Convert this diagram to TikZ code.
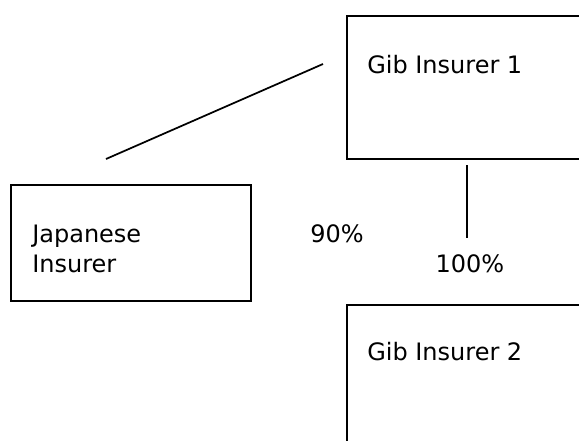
\documentclass[tikz,border=0pt]{standalone}
\usepackage{fontspec}
\setmainfont{DejaVu Sans}
\usetikzlibrary{positioning}
\tikzset{plainbox/.style={
    % The shape:
    rectangle,inner sep=0pt,anchor=north west,
    % The rest
    line width=1.3pt,draw=black
  },
  boxtext/.style={anchor=base west,inner sep=0pt,align=left,
    font=\fontsize{18}{22.5}\selectfont},
  share/.style={anchor=base,inner sep=0pt,font=\fontsize{18}{20}\selectfont}
}

\begin{document}
\begin{tikzpicture}[x=0.75pt,y=-0.75pt]
  \useasboundingbox (0,0) rectangle (579,440);
  \clip (0,0) rectangle (579,440);

  % boxes
  \node (gib1)  [plainbox,minimum width=186pt,minimum height=107.25pt] at (346,15) {};
  \node (japan) [plainbox,minimum width=180pt,minimum height=87pt] at (10,184) {};
  \node (gib2)  [plainbox,minimum width=186pt,minimum height=120pt] at (346,304) {};

  % texts in the boxes
  \node (gib1txt)  [boxtext] at ([shift={(21,58)}]gib1.north west) {Gib Insurer 1};
  \node (japantxt) [boxtext] at ([shift={(22,88)}]japan.north west) {Japanese\\Insurer};
  \node (gib2txt)  [boxtext] at ([shift={(21,56)}]gib2.north west) {Gib Insurer 2};

  % holdings
  \coordinate (jlink) at (106,159);
  \coordinate (glink) at (323,64);
  \coordinate (gtop)  at (467,165);
  \coordinate (gbot)  at (467,238);
  \node (share90)  [share] at (337,242) {90\%};
  \node (share100) [share] at (470,272) {100\%};
  \draw[line width=1.3pt] (jlink) -- (glink);
  \draw[line width=1.3pt] (gtop) -- (gbot);
\end{tikzpicture}
\end{document}
